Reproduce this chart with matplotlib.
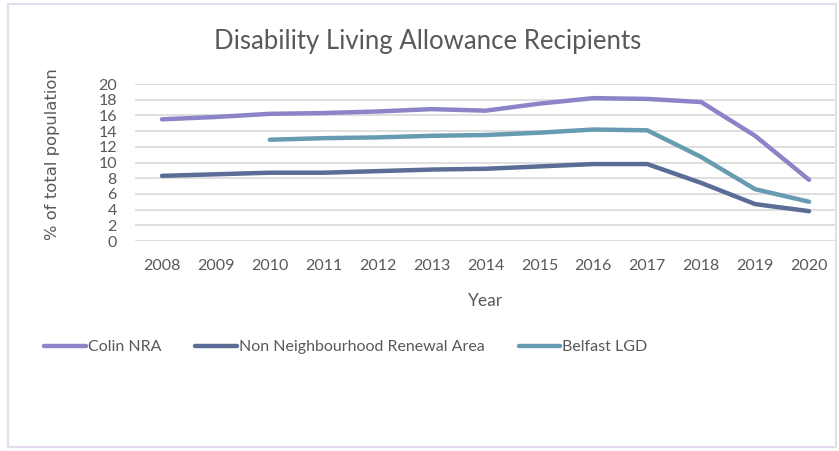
import numpy as np
import matplotlib
matplotlib.use("Agg")
import matplotlib.pyplot as plt
from matplotlib.patches import Rectangle

years = ["2008", "2009", "2010", "2011", "2012", "2013", "2014",
         "2015", "2016", "2017", "2018", "2019", "2020"]
colin = [15.5, 15.8, 16.2, 16.3, 16.5, 16.8, 16.6, 17.5, 18.2, 18.1, 17.7, 13.4, 7.8]
non_nra = [8.3, 8.5, 8.7, 8.7, 8.9, 9.1, 9.2, 9.5, 9.8, 9.8, 7.4, 4.7, 3.8]
belfast = [np.nan, np.nan, 12.9, 13.1, 13.2, 13.4, 13.5, 13.8, 14.2, 14.1, 10.7, 6.6, 5.0]

series = [("Colin NRA", colin, "#8B84C9"),
          ("Non Neighbourhood Renewal Area", non_nra, "#5A6D96"),
          ("Belfast LGD", belfast, "#669BB1")]

txt = "#595959"
fnt = ["Lato", "DejaVu Sans"]

W, H = 839, 451
fig = plt.figure(figsize=(W / 100, H / 100), dpi=100)

# chart border
fig.patches.append(Rectangle((8 / W, 4 / H), 828 / W, 443 / H, transform=fig.transFigure,
                             fill=False, edgecolor="#E6DCEE", linewidth=1.5))

ax = fig.add_axes([135 / W, 1 - 241 / H, 701 / W, 157 / H])
x = np.arange(len(years))
for name, vals, col in series:
    ax.plot(x, vals, color=col, linewidth=3.2, solid_capstyle="round", label=name)

ax.set_xlim(-0.5, len(years) - 0.5)
ax.set_ylim(0, 20)
ax.set_yticks(np.arange(0, 21, 2))
ax.set_xticks(x)
ax.set_xticklabels(years)
ax.grid(axis="y", color="#D9D9D9", linewidth=1.2)
ax.set_axisbelow(True)
for s in ax.spines.values():
    s.set_visible(False)
ax.tick_params(length=0, colors=txt, labelsize=11.5)
ax.tick_params(axis="x", pad=13)
ax.tick_params(axis="y", pad=13)
for lab in ax.get_xticklabels() + ax.get_yticklabels():
    lab.set_family(fnt)

ax.set_ylabel("% of total population", color=txt, fontsize=11.8, family="DejaVu Sans")
ax.yaxis.set_label_coords(-0.107, 0.554)
ax.set_xlabel("Year", color=txt, fontsize=12.5, family=fnt, labelpad=14)

fig.text(428 / W, 1 - 42 / H, "Disability Living Allowance Recipients", ha="center", va="center",
         color=txt, fontsize=18.5, family=fnt)

leg = fig.legend(loc="center left", bbox_to_anchor=(30 / W, 1 - 347 / H), ncol=3, frameon=False,
                 handlelength=2.6, handletextpad=0.15, columnspacing=2.1,
                 prop={"family": fnt, "size": 11.5})
for t in leg.get_texts():
    t.set_color(txt)

fig.savefig("out.png", dpi=100)
